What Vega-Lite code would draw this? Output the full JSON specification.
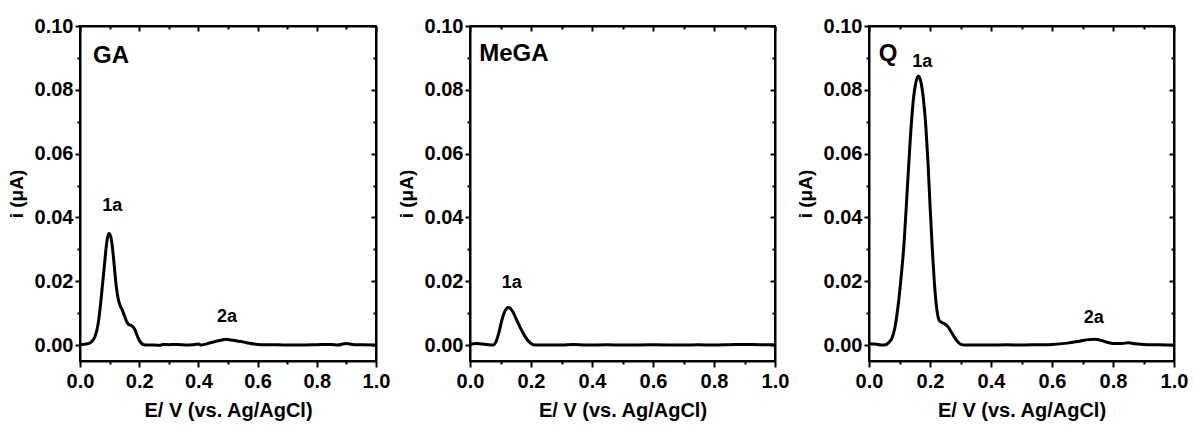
{
  "$schema": "https://vega.github.io/schema/vega-lite/v6.json",
  "padding": {"left": 6, "top": 15, "right": 0, "bottom": 0},
  "spacing": 5,
  "config": {
    "view": {"stroke": "black", "strokeWidth": 2},
    "axis": {
      "domainColor": "black", "domainWidth": 2, "tickColor": "black", "tickWidth": 2,
      "labelFont": "Liberation Sans", "labelFontSize": 20, "labelFontWeight": "bold", "labelColor": "black",
      "titleFont": "Liberation Sans", "titleFontSize": 20, "titleFontWeight": "bold", "titleColor": "black",
      "grid": false, "labelFlush": false, "labelOverlap": false
    },
    "text": {"font": "Liberation Sans", "fontWeight": "bold", "color": "black"}
  },
  "datasets": {
    "ga": [
      {"E": 0.000, "i": 0.0002}, {"E": 0.010, "i": 0.0002}, {"E": 0.020, "i": 0.0003}, {"E": 0.030, "i": 0.0005},
      {"E": 0.040, "i": 0.0011}, {"E": 0.050, "i": 0.0025}, {"E": 0.060, "i": 0.0060}, {"E": 0.068, "i": 0.0115},
      {"E": 0.075, "i": 0.0180}, {"E": 0.082, "i": 0.0245}, {"E": 0.088, "i": 0.0303}, {"E": 0.093, "i": 0.0337},
      {"E": 0.098, "i": 0.0350}, {"E": 0.103, "i": 0.0343}, {"E": 0.108, "i": 0.0318}, {"E": 0.113, "i": 0.0275},
      {"E": 0.118, "i": 0.0225}, {"E": 0.123, "i": 0.0180}, {"E": 0.128, "i": 0.0150}, {"E": 0.135, "i": 0.0125},
      {"E": 0.142, "i": 0.0112}, {"E": 0.150, "i": 0.0092}, {"E": 0.158, "i": 0.0073}, {"E": 0.165, "i": 0.0064},
      {"E": 0.172, "i": 0.0062}, {"E": 0.180, "i": 0.0056}, {"E": 0.187, "i": 0.0045}, {"E": 0.193, "i": 0.0030},
      {"E": 0.200, "i": 0.0015}, {"E": 0.207, "i": 0.0006}, {"E": 0.215, "i": 0.0001}, {"E": 0.230, "i": 0.0000},
      {"E": 0.250, "i": 0.0000}, {"E": 0.270, "i": -0.0001}, {"E": 0.280, "i": 0.0002}, {"E": 0.300, "i": 0.0001},
      {"E": 0.320, "i": 0.0002}, {"E": 0.340, "i": 0.0001}, {"E": 0.360, "i": 0.0000}, {"E": 0.380, "i": 0.0001},
      {"E": 0.400, "i": 0.0003}, {"E": 0.410, "i": 0.0000}, {"E": 0.420, "i": 0.0002}, {"E": 0.440, "i": 0.0007},
      {"E": 0.460, "i": 0.0012}, {"E": 0.480, "i": 0.0016}, {"E": 0.495, "i": 0.0018}, {"E": 0.510, "i": 0.0016},
      {"E": 0.530, "i": 0.0013}, {"E": 0.550, "i": 0.0010}, {"E": 0.570, "i": 0.0006}, {"E": 0.600, "i": 0.0002},
      {"E": 0.650, "i": 0.0001}, {"E": 0.700, "i": 0.0000}, {"E": 0.750, "i": 0.0000}, {"E": 0.800, "i": 0.0001},
      {"E": 0.850, "i": 0.0002}, {"E": 0.870, "i": 0.0000}, {"E": 0.900, "i": 0.0005}, {"E": 0.920, "i": 0.0002},
      {"E": 0.950, "i": 0.0001}, {"E": 1.000, "i": 0.0000}
    ],
    "mega": [
      {"E": 0.000, "i": 0.0002}, {"E": 0.020, "i": 0.0005}, {"E": 0.040, "i": 0.0003}, {"E": 0.060, "i": 0.0001},
      {"E": 0.075, "i": 0.0000}, {"E": 0.085, "i": 0.0010}, {"E": 0.095, "i": 0.0040}, {"E": 0.105, "i": 0.0080},
      {"E": 0.115, "i": 0.0107}, {"E": 0.125, "i": 0.0118}, {"E": 0.132, "i": 0.0115}, {"E": 0.140, "i": 0.0105},
      {"E": 0.150, "i": 0.0085}, {"E": 0.160, "i": 0.0064}, {"E": 0.170, "i": 0.0045}, {"E": 0.180, "i": 0.0028},
      {"E": 0.190, "i": 0.0014}, {"E": 0.200, "i": 0.0005}, {"E": 0.215, "i": 0.0000}, {"E": 0.250, "i": 0.0000},
      {"E": 0.300, "i": 0.0000}, {"E": 0.340, "i": 0.0002}, {"E": 0.380, "i": 0.0000}, {"E": 0.450, "i": 0.0001},
      {"E": 0.500, "i": 0.0000}, {"E": 0.600, "i": 0.0001}, {"E": 0.700, "i": 0.0000}, {"E": 0.750, "i": 0.0001},
      {"E": 0.800, "i": 0.0000}, {"E": 0.850, "i": 0.0001}, {"E": 0.900, "i": 0.0002}, {"E": 0.950, "i": 0.0001},
      {"E": 1.000, "i": 0.0001}
    ],
    "q": [
      {"E": 0.000, "i": 0.0004}, {"E": 0.020, "i": 0.0003}, {"E": 0.040, "i": 0.0000}, {"E": 0.055, "i": 0.0001},
      {"E": 0.065, "i": 0.0008}, {"E": 0.075, "i": 0.0021}, {"E": 0.085, "i": 0.0055}, {"E": 0.095, "i": 0.0120},
      {"E": 0.105, "i": 0.0210}, {"E": 0.115, "i": 0.0320}, {"E": 0.125, "i": 0.0480}, {"E": 0.135, "i": 0.0640},
      {"E": 0.145, "i": 0.0765}, {"E": 0.153, "i": 0.0820}, {"E": 0.162, "i": 0.0843}, {"E": 0.170, "i": 0.0825},
      {"E": 0.178, "i": 0.0775}, {"E": 0.186, "i": 0.0690}, {"E": 0.193, "i": 0.0580}, {"E": 0.200, "i": 0.0440},
      {"E": 0.207, "i": 0.0310}, {"E": 0.214, "i": 0.0200}, {"E": 0.222, "i": 0.0115}, {"E": 0.230, "i": 0.0078},
      {"E": 0.240, "i": 0.0070}, {"E": 0.250, "i": 0.0065}, {"E": 0.260, "i": 0.0056}, {"E": 0.270, "i": 0.0040},
      {"E": 0.280, "i": 0.0025}, {"E": 0.290, "i": 0.0011}, {"E": 0.300, "i": 0.0003}, {"E": 0.315, "i": 0.0000},
      {"E": 0.350, "i": 0.0000}, {"E": 0.400, "i": 0.0000}, {"E": 0.450, "i": 0.0001}, {"E": 0.500, "i": 0.0000},
      {"E": 0.550, "i": 0.0001}, {"E": 0.600, "i": 0.0002}, {"E": 0.650, "i": 0.0006}, {"E": 0.690, "i": 0.0012},
      {"E": 0.720, "i": 0.0017}, {"E": 0.740, "i": 0.0018}, {"E": 0.760, "i": 0.0015}, {"E": 0.780, "i": 0.0009},
      {"E": 0.800, "i": 0.0005}, {"E": 0.830, "i": 0.0005}, {"E": 0.850, "i": 0.0007}, {"E": 0.870, "i": 0.0004},
      {"E": 0.900, "i": 0.0002}, {"E": 0.950, "i": 0.0001}, {"E": 1.000, "i": 0.0000}
    ],
    "labels": [
      {"panel": "GA", "kind": "name", "E": 0.044, "i": 0.0883, "text": "GA"},
      {"panel": "GA", "kind": "peak", "E": 0.109, "i": 0.042, "text": "1a"},
      {"panel": "GA", "kind": "peak", "E": 0.497, "i": 0.0073, "text": "2a"},
      {"panel": "MeGA", "kind": "name", "E": 0.030, "i": 0.089, "text": "MeGA"},
      {"panel": "MeGA", "kind": "peak", "E": 0.137, "i": 0.018, "text": "1a"},
      {"panel": "Q", "kind": "name", "E": 0.032, "i": 0.089, "text": "Q"},
      {"panel": "Q", "kind": "peak", "E": 0.175, "i": 0.087, "text": "1a"},
      {"panel": "Q", "kind": "peak", "E": 0.737, "i": 0.0068, "text": "2a"}
    ]
  },
  "hconcat": [
    {
      "width": 296, "height": 335,
      "resolve": {"axis": {"x": "independent", "y": "independent"}},
      "layer": [
        {
          "data": {"name": "ga"},
          "mark": {"type": "line", "color": "black", "strokeWidth": 3, "interpolate": "monotone"},
          "encoding": {
            "x": {"field": "E", "type": "quantitative", "scale": {"domain": [0, 1], "nice": false, "zero": false},
              "axis": {"orient": "bottom", "values": [0, 0.1, 0.2, 0.3, 0.4, 0.5, 0.6, 0.7, 0.8, 0.9, 1],
                "labelExpr": "round(datum.value*10)%2==0 ? format(datum.value,'.1f') : ''",
                "tickSize": {"condition": {"test": "round(datum.value*10)%2==0", "value": 6}, "value": 3},
                "labelPadding": 4, "title": "E/ V (vs. Ag/AgCl)", "titlePadding": 9}},
            "y": {"field": "i", "type": "quantitative", "scale": {"domain": [-0.005, 0.1], "nice": false, "zero": false},
              "axis": {"orient": "left", "values": [0, 0.01, 0.02, 0.03, 0.04, 0.05, 0.06, 0.07, 0.08, 0.09, 0.1],
                "labelExpr": "round(datum.value*100)%2==0 ? format(datum.value,'.2f') : ''",
                "tickSize": {"condition": {"test": "round(datum.value*100)%2==0", "value": 5}, "value": 3},
                "labelPadding": 2, "title": "i (μA)", "titleFontSize": 19, "titlePadding": 8}}
          }
        },
        {
          "data": {"name": "labels"},
          "transform": [{"filter": "datum.panel == 'GA' && datum.kind == 'name'"}],
          "mark": {"type": "text", "fontSize": 24, "align": "left", "baseline": "alphabetic"},
          "encoding": {
            "x": {"field": "E", "type": "quantitative", "scale": {"domain": [0, 1], "nice": false, "zero": false},
              "axis": {"orient": "top", "values": [0, 0.1, 0.2, 0.3, 0.4, 0.5, 0.6, 0.7, 0.8, 0.9, 1], "labels": false, "title": null,
                "tickSize": {"condition": {"test": "round(datum.value*10)%2==0", "value": -5}, "value": -3}}},
            "y": {"field": "i", "type": "quantitative", "scale": {"domain": [-0.005, 0.1], "nice": false, "zero": false},
              "axis": {"orient": "right", "values": [0, 0.01, 0.02, 0.03, 0.04, 0.05, 0.06, 0.07, 0.08, 0.09, 0.1], "labels": false, "title": null,
                "tickSize": {"condition": {"test": "round(datum.value*100)%2==0", "value": -5}, "value": -3}}},
            "text": {"field": "text"}
          }
        },
        {
          "data": {"name": "labels"},
          "transform": [{"filter": "datum.panel == 'GA' && datum.kind == 'peak'"}],
          "mark": {"type": "text", "fontSize": 18, "align": "center", "baseline": "alphabetic"},
          "encoding": {
            "x": {"field": "E", "type": "quantitative", "scale": {"domain": [0, 1], "nice": false, "zero": false}, "axis": null},
            "y": {"field": "i", "type": "quantitative", "scale": {"domain": [-0.005, 0.1], "nice": false, "zero": false}, "axis": null},
            "text": {"field": "text"}
          }
        }
      ]
    },
    {
      "width": 305, "height": 335,
      "resolve": {"axis": {"x": "independent", "y": "independent"}},
      "layer": [
        {
          "data": {"name": "mega"},
          "mark": {"type": "line", "color": "black", "strokeWidth": 3, "interpolate": "monotone"},
          "encoding": {
            "x": {"field": "E", "type": "quantitative", "scale": {"domain": [0, 1], "nice": false, "zero": false},
              "axis": {"orient": "bottom", "values": [0, 0.1, 0.2, 0.3, 0.4, 0.5, 0.6, 0.7, 0.8, 0.9, 1],
                "labelExpr": "round(datum.value*10)%2==0 ? format(datum.value,'.1f') : ''",
                "tickSize": {"condition": {"test": "round(datum.value*10)%2==0", "value": 6}, "value": 3},
                "labelPadding": 4, "title": "E/ V (vs. Ag/AgCl)", "titlePadding": 9}},
            "y": {"field": "i", "type": "quantitative", "scale": {"domain": [-0.005, 0.1], "nice": false, "zero": false},
              "axis": {"orient": "left", "values": [0, 0.01, 0.02, 0.03, 0.04, 0.05, 0.06, 0.07, 0.08, 0.09, 0.1],
                "labelExpr": "round(datum.value*100)%2==0 ? format(datum.value,'.2f') : ''",
                "tickSize": {"condition": {"test": "round(datum.value*100)%2==0", "value": 5}, "value": 3},
                "labelPadding": 2, "title": "i (μA)", "titleFontSize": 19, "titlePadding": 8}}
          }
        },
        {
          "data": {"name": "labels"},
          "transform": [{"filter": "datum.panel == 'MeGA' && datum.kind == 'name'"}],
          "mark": {"type": "text", "fontSize": 24, "align": "left", "baseline": "alphabetic"},
          "encoding": {
            "x": {"field": "E", "type": "quantitative", "scale": {"domain": [0, 1], "nice": false, "zero": false},
              "axis": {"orient": "top", "values": [0, 0.1, 0.2, 0.3, 0.4, 0.5, 0.6, 0.7, 0.8, 0.9, 1], "labels": false, "title": null,
                "tickSize": {"condition": {"test": "round(datum.value*10)%2==0", "value": -5}, "value": -3}}},
            "y": {"field": "i", "type": "quantitative", "scale": {"domain": [-0.005, 0.1], "nice": false, "zero": false},
              "axis": {"orient": "right", "values": [0, 0.01, 0.02, 0.03, 0.04, 0.05, 0.06, 0.07, 0.08, 0.09, 0.1], "labels": false, "title": null,
                "tickSize": {"condition": {"test": "round(datum.value*100)%2==0", "value": -5}, "value": -3}}},
            "text": {"field": "text"}
          }
        },
        {
          "data": {"name": "labels"},
          "transform": [{"filter": "datum.panel == 'MeGA' && datum.kind == 'peak'"}],
          "mark": {"type": "text", "fontSize": 18, "align": "center", "baseline": "alphabetic"},
          "encoding": {
            "x": {"field": "E", "type": "quantitative", "scale": {"domain": [0, 1], "nice": false, "zero": false}, "axis": null},
            "y": {"field": "i", "type": "quantitative", "scale": {"domain": [-0.005, 0.1], "nice": false, "zero": false}, "axis": null},
            "text": {"field": "text"}
          }
        }
      ]
    },
    {
      "width": 305, "height": 335,
      "resolve": {"axis": {"x": "independent", "y": "independent"}},
      "layer": [
        {
          "data": {"name": "q"},
          "mark": {"type": "line", "color": "black", "strokeWidth": 3, "interpolate": "monotone"},
          "encoding": {
            "x": {"field": "E", "type": "quantitative", "scale": {"domain": [0, 1], "nice": false, "zero": false},
              "axis": {"orient": "bottom", "values": [0, 0.1, 0.2, 0.3, 0.4, 0.5, 0.6, 0.7, 0.8, 0.9, 1],
                "labelExpr": "round(datum.value*10)%2==0 ? format(datum.value,'.1f') : ''",
                "tickSize": {"condition": {"test": "round(datum.value*10)%2==0", "value": 6}, "value": 3},
                "labelPadding": 4, "title": "E/ V (vs. Ag/AgCl)", "titlePadding": 9}},
            "y": {"field": "i", "type": "quantitative", "scale": {"domain": [-0.005, 0.1], "nice": false, "zero": false},
              "axis": {"orient": "left", "values": [0, 0.01, 0.02, 0.03, 0.04, 0.05, 0.06, 0.07, 0.08, 0.09, 0.1],
                "labelExpr": "round(datum.value*100)%2==0 ? format(datum.value,'.2f') : ''",
                "tickSize": {"condition": {"test": "round(datum.value*100)%2==0", "value": 5}, "value": 3},
                "labelPadding": 2, "title": "i (μA)", "titleFontSize": 19, "titlePadding": 8}}
          }
        },
        {
          "data": {"name": "labels"},
          "transform": [{"filter": "datum.panel == 'Q' && datum.kind == 'name'"}],
          "mark": {"type": "text", "fontSize": 24, "align": "left", "baseline": "alphabetic"},
          "encoding": {
            "x": {"field": "E", "type": "quantitative", "scale": {"domain": [0, 1], "nice": false, "zero": false},
              "axis": {"orient": "top", "values": [0, 0.1, 0.2, 0.3, 0.4, 0.5, 0.6, 0.7, 0.8, 0.9, 1], "labels": false, "title": null,
                "tickSize": {"condition": {"test": "round(datum.value*10)%2==0", "value": -5}, "value": -3}}},
            "y": {"field": "i", "type": "quantitative", "scale": {"domain": [-0.005, 0.1], "nice": false, "zero": false},
              "axis": {"orient": "right", "values": [0, 0.01, 0.02, 0.03, 0.04, 0.05, 0.06, 0.07, 0.08, 0.09, 0.1], "labels": false, "title": null,
                "tickSize": {"condition": {"test": "round(datum.value*100)%2==0", "value": -5}, "value": -3}}},
            "text": {"field": "text"}
          }
        },
        {
          "data": {"name": "labels"},
          "transform": [{"filter": "datum.panel == 'Q' && datum.kind == 'peak'"}],
          "mark": {"type": "text", "fontSize": 18, "align": "center", "baseline": "alphabetic"},
          "encoding": {
            "x": {"field": "E", "type": "quantitative", "scale": {"domain": [0, 1], "nice": false, "zero": false}, "axis": null},
            "y": {"field": "i", "type": "quantitative", "scale": {"domain": [-0.005, 0.1], "nice": false, "zero": false}, "axis": null},
            "text": {"field": "text"}
          }
        }
      ]
    }
  ]
}
